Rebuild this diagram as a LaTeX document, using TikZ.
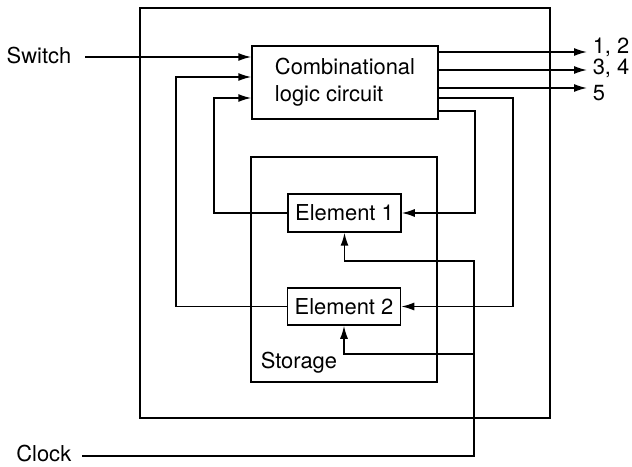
\documentclass[tikz,border=0pt]{standalone}
\usepackage{fontspec}
\setmainfont{TeX Gyre Heros}
\usetikzlibrary{arrows.meta,positioning}

\begin{document}
\begin{tikzpicture}[x=1bp,y=-1bp,line width=1.5bp,>={Latex[length=13bp,width=8bp]},
    box/.style={draw,rectangle,inner sep=0pt},
    lbl/.style={inner sep=0pt,font=\fontsize{22}{27}\selectfont}]

    \useasboundingbox (0,0) rectangle (632,467);

    % Frames and blocks
    \node[box,minimum width=410bp,minimum height=410bp] (outer) at (345,213) {};
    \node[box,minimum width=186bp,minimum height=225bp] (storage) at (344,269.5) {};
    \node[box,lbl,align=left,minimum width=186bp,minimum height=73bp] (comb) at (345,82.5) {Combinational\\logic circuit};
    \node[box,lbl,minimum width=113bp,minimum height=38bp] (el1) at (344.5,213) {Element 1};
    \node[box,lbl,minimum width=113bp,minimum height=37bp] (el2) at (344,306.5) {Element 2};

    % Labels
    \node[lbl,anchor=east] (switch) at (72,56) {Switch};
    \node[lbl,anchor=east] (clock) at (72,454) {Clock};
    \node[lbl,anchor=west] (storlbl) at (260,363) {Storage};
    \node[lbl,anchor=west] (o12) at (592,47.5) {1, 2};
    \node[lbl,anchor=west] (o34) at (592,68.5) {3, 4};
    \node[lbl,anchor=west] (o5) at (592,93) {5};

    % Helper coordinates
    \coordinate (swin) at (85,57);
    \coordinate (ckin) at (82,456);
    \coordinate (t12) at (587,52);
    \coordinate (t34) at (587,70);
    \coordinate (t5) at (587,88);
    \coordinate (fb1) at (214,98);
    \coordinate (fb2) at (176,77);
    \coordinate (st1) at (475,111);
    \coordinate (st2) at (513,98);
    \coordinate (ck) at (474,456);
    \coordinate (ck1) at (474,261);
    \coordinate (ck2) at (474,354);

    % Inputs and outputs
    \draw[->] (swin) -- (swin -| comb.west);
    \draw[->] (comb.east |- t12) -- (t12);
    \draw[->] (comb.east |- t34) -- (t34);
    \draw[->] (comb.east |- t5) -- (t5);

    % Feedback from storage
    \draw[->] (el1.west) -| (fb1) -- (fb1 -| comb.west);
    \draw[->] (el2.west) -| (fb2) -- (fb2 -| comb.west);

    % Next state into storage
    \draw[->] (st1 -| comb.east) -- (st1) |- (el1.east);
    \draw[->] (st2 -| comb.east) -- (st2) |- (el2.east);

    % Clock
    \draw[->] (ckin) -- (ck) -- (ck1) -| (el1.south);
    \draw[->] (ck2) -| (el2.south);
\end{tikzpicture}
\end{document}
